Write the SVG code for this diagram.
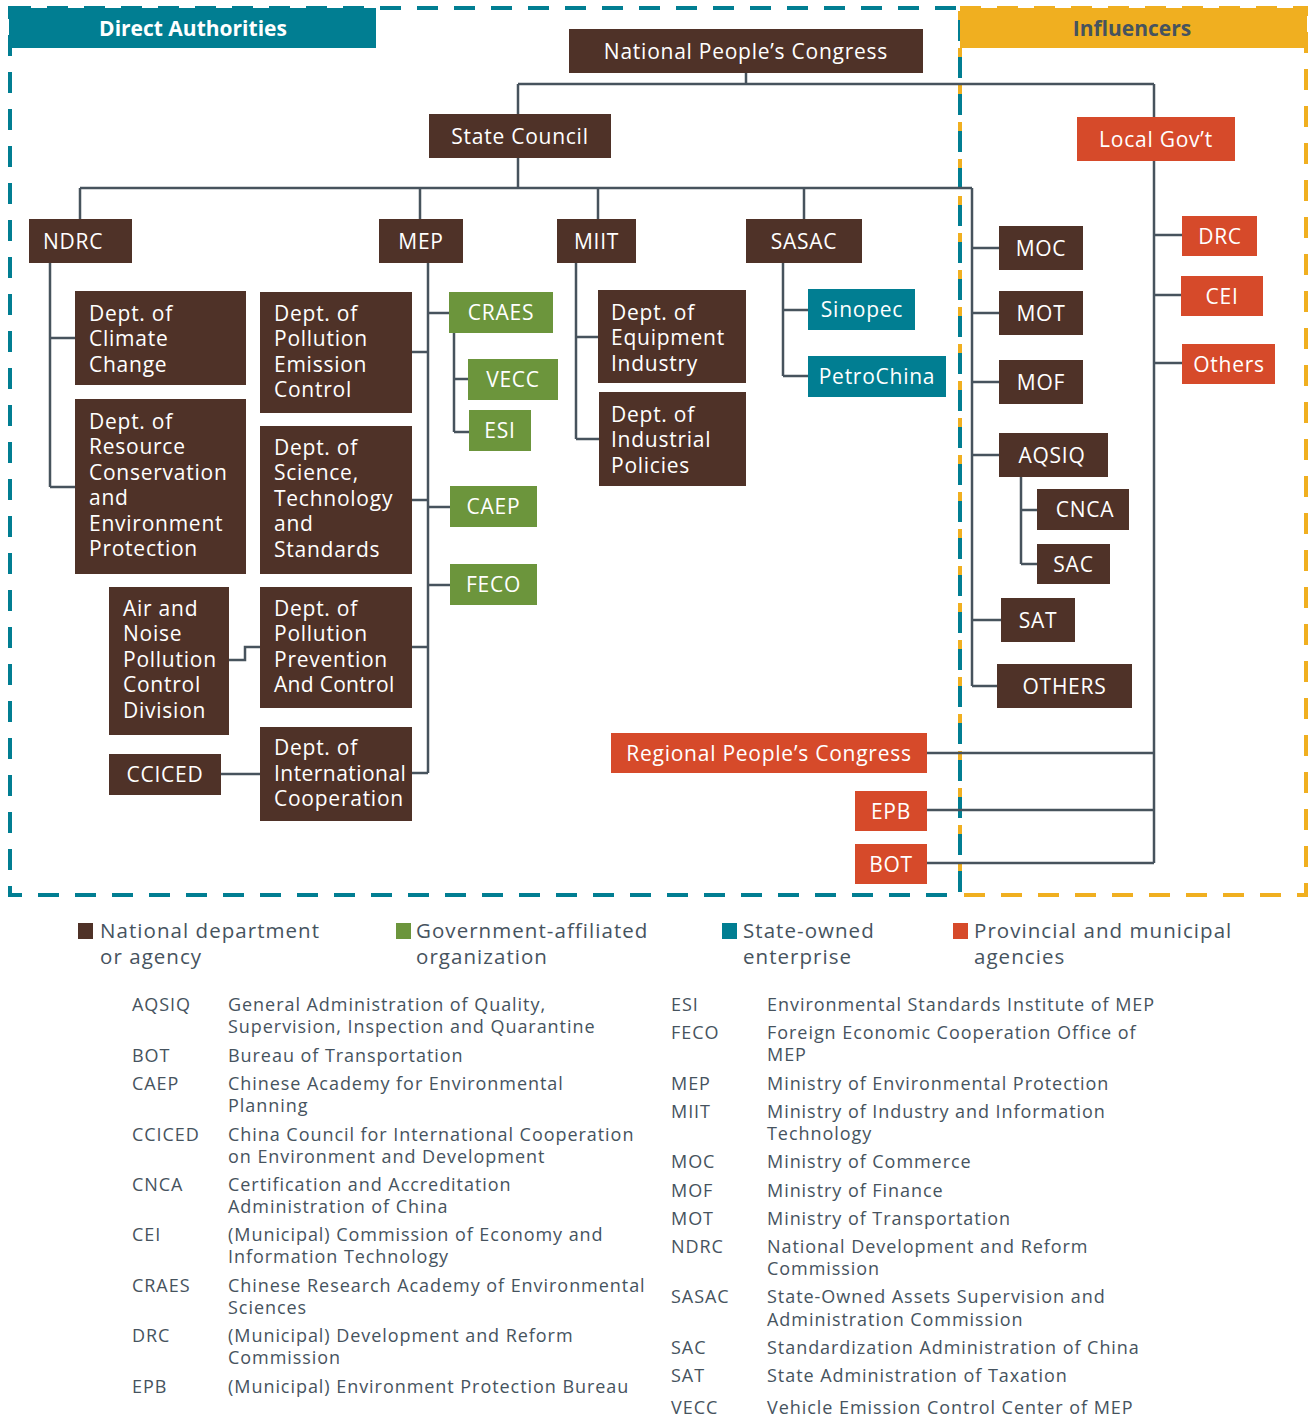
<svg xmlns="http://www.w3.org/2000/svg" width="1310" height="1418" viewBox="0 0 1310 1418">
<style>
.bg{fill:#ffffff}
.br{fill:#4F3228}
.gr{fill:#6C953C}
.tl{fill:#017E92}
.rd{fill:#D64A2A}
.yl{fill:#F0AF20}
.lbl{font-family:"Open Sans","Noto Sans",sans-serif;font-size:21px;fill:#ffffff;letter-spacing:0.75px}
.c{text-anchor:middle}
.ban{font-family:"Open Sans","Noto Sans",sans-serif;font-size:21px;font-weight:bold}
.leg{font-family:"Open Sans","Noto Sans",sans-serif;font-size:20.5px;fill:#46535E;letter-spacing:1.05px}
.gl{font-family:"Open Sans","Noto Sans",sans-serif;font-size:18px;fill:#46535E;letter-spacing:0.95px}
.conn path{stroke:#47535D;stroke-width:2.5;fill:none}
.frameT{fill:none;stroke:#017E92;stroke-width:4;stroke-dasharray:21 16}
.frameY{fill:none;stroke:#F0AF20;stroke-width:4;stroke-dasharray:21 16}
</style>
<rect class="bg" x="0" y="0" width="1310" height="1418"/>

<!-- frames -->
<g id="frames">
<rect class="frameY" x="960" y="8" width="346" height="887"/>
<rect class="frameT" x="10" y="8" width="950" height="887"/>
</g>

<g id="banner-direct"><rect class="tl" x="9" y="8" width="367" height="40"/><text class="ban c" x="193" y="35.5" fill="#ffffff">Direct Authorities</text></g>
<g id="banner-influencers"><rect class="yl" x="960" y="8" width="347" height="40"/><text class="ban c" x="1132" y="35.5" fill="#46535E">Influencers</text></g>

<!-- connectors -->
<g class="conn" id="connectors">
<path d="M746 73V84M518 84H1154M518 84V114M1154 84V117"/>
<path d="M518 158V188M80 188H972M80 188V219M420 188V219M598 188V219M804 188V219M972 188V686"/>
<path d="M972 248H999M972 313H999M972 382H999M972 455H999M972 620H1001M972 686H997"/>
<path d="M1021 477V564M1021 510H1037M1021 564H1037"/>
<path d="M1154 161V863M1154 235H1182M1154 295H1181M1154 363H1182M927 753H1154M927 810H1154M927 863H1154"/>
<path d="M50 263V487M50 338H75M50 487H75"/>
<path d="M428 263V773M412 352H428M412 500H428M412 647H428M412 773H428M428 313H449M428 507H450M428 585H450"/>
<path d="M454 333V432M454 379H468M454 432H469"/>
<path d="M229 660H245V647H260M221 774H260"/>
<path d="M576 263V439M576 337H598M576 439H599"/>
<path d="M783 263V376M783 310H808M783 376H808"/>
</g>

<!-- top nodes -->
<g id="npc"><rect class="br" x="569" y="29" width="354" height="44"/><text class="lbl c" x="746" y="58.5">National People’s Congress</text></g>
<g id="state-council"><rect class="br" x="429" y="114" width="182" height="44"/><text class="lbl c" x="520" y="143.5">State Council</text></g>
<g id="local-gov"><rect class="rd" x="1077" y="117" width="158" height="44"/><text class="lbl c" x="1156" y="146.5">Local Gov’t</text></g>

<g id="ndrc"><rect class="br" x="29" y="219" width="103" height="44"/><text class="lbl" x="43" y="248.5">NDRC</text></g>
<g id="mep"><rect class="br" x="379" y="219" width="84" height="44"/><text class="lbl c" x="421" y="248.5">MEP</text></g>
<g id="miit"><rect class="br" x="557" y="219" width="79" height="44"/><text class="lbl c" x="596.5" y="248.5">MIIT</text></g>
<g id="sasac"><rect class="br" x="746" y="219" width="116" height="44"/><text class="lbl c" x="804" y="248.5">SASAC</text></g>

<!-- NDRC children -->
<g id="dept-climate"><rect class="br" x="75" y="291" width="171" height="94"/>
<text class="lbl" x="89" y="320.5">Dept. of</text><text class="lbl" x="89" y="346">Climate</text><text class="lbl" x="89" y="371.5">Change</text></g>
<g id="dept-resource"><rect class="br" x="75" y="399" width="171" height="175"/>
<text class="lbl" x="89" y="428.5">Dept. of</text><text class="lbl" x="89" y="454">Resource</text><text class="lbl" x="89" y="479.5">Conservation</text><text class="lbl" x="89" y="505">and</text><text class="lbl" x="89" y="530.5">Environment</text><text class="lbl" x="89" y="556">Protection</text></g>

<!-- MEP children -->
<g id="dept-pec"><rect class="br" x="260" y="292" width="152" height="121"/>
<text class="lbl" x="274" y="320.5">Dept. of</text><text class="lbl" x="274" y="346">Pollution</text><text class="lbl" x="274" y="371.5">Emission</text><text class="lbl" x="274" y="397">Control</text></g>
<g id="dept-sci"><rect class="br" x="260" y="426" width="152" height="148"/>
<text class="lbl" x="274" y="454.5">Dept. of</text><text class="lbl" x="274" y="480">Science,</text><text class="lbl" x="274" y="505.5">Technology</text><text class="lbl" x="274" y="531">and</text><text class="lbl" x="274" y="556.5">Standards</text></g>
<g id="dept-ppc"><rect class="br" x="260" y="587" width="152" height="121"/>
<text class="lbl" x="274" y="615.5">Dept. of</text><text class="lbl" x="274" y="641">Pollution</text><text class="lbl" x="274" y="666.5">Prevention</text><text class="lbl" x="274" y="692" style="letter-spacing:0.3px">And Control</text></g>
<g id="dept-intl"><rect class="br" x="260" y="727" width="152" height="94"/>
<text class="lbl" x="274" y="755">Dept. of</text><text class="lbl" x="274" y="780.5" style="letter-spacing:0.45px">International</text><text class="lbl" x="274" y="806">Cooperation</text></g>
<g id="air-noise"><rect class="br" x="109" y="587" width="120" height="148"/>
<text class="lbl" x="123" y="615.5">Air and</text><text class="lbl" x="123" y="641">Noise</text><text class="lbl" x="123" y="666.5">Pollution</text><text class="lbl" x="123" y="692">Control</text><text class="lbl" x="123" y="717.5">Division</text></g>
<g id="cciced"><rect class="br" x="109" y="754" width="112" height="41"/><text class="lbl c" x="165" y="781.5">CCICED</text></g>

<g id="craes"><rect class="gr" x="449" y="292" width="104" height="41"/><text class="lbl c" x="501" y="320">CRAES</text></g>
<g id="vecc"><rect class="gr" x="468" y="359" width="90" height="41"/><text class="lbl c" x="513" y="387">VECC</text></g>
<g id="esi"><rect class="gr" x="469" y="410" width="62" height="41"/><text class="lbl c" x="500" y="438">ESI</text></g>
<g id="caep"><rect class="gr" x="450" y="486" width="87" height="41"/><text class="lbl c" x="493.5" y="514">CAEP</text></g>
<g id="feco"><rect class="gr" x="450" y="564" width="87" height="41"/><text class="lbl c" x="493.5" y="592">FECO</text></g>

<!-- MIIT children -->
<g id="dept-equip"><rect class="br" x="598" y="290" width="148" height="93"/>
<text class="lbl" x="611" y="319.5">Dept. of</text><text class="lbl" x="611" y="345">Equipment</text><text class="lbl" x="611" y="370.5">Industry</text></g>
<g id="dept-indpol"><rect class="br" x="599" y="392" width="147" height="94"/>
<text class="lbl" x="611" y="421.5">Dept. of</text><text class="lbl" x="611" y="447">Industrial</text><text class="lbl" x="611" y="472.5">Policies</text></g>

<!-- SASAC children -->
<g id="sinopec"><rect class="tl" x="808" y="289" width="107" height="41"/><text class="lbl c" x="862" y="317">Sinopec</text></g>
<g id="petrochina"><rect class="tl" x="808" y="356" width="138" height="41"/><text class="lbl c" x="877" y="384">PetroChina</text></g>

<!-- right column -->
<g id="moc"><rect class="br" x="999" y="226" width="84" height="44"/><text class="lbl c" x="1041" y="255.5">MOC</text></g>
<g id="mot"><rect class="br" x="999" y="291" width="84" height="44"/><text class="lbl c" x="1041" y="320.5">MOT</text></g>
<g id="mof"><rect class="br" x="999" y="360" width="84" height="44"/><text class="lbl c" x="1041" y="389.5">MOF</text></g>
<g id="aqsiq"><rect class="br" x="999" y="433" width="109" height="44"/><text class="lbl c" x="1052" y="462.5">AQSIQ</text></g>
<g id="cnca"><rect class="br" x="1037" y="489" width="92" height="41"/><text class="lbl c" x="1085" y="517">CNCA</text></g>
<g id="sac"><rect class="br" x="1037" y="544" width="73" height="40"/><text class="lbl c" x="1073.5" y="571.5">SAC</text></g>
<g id="sat"><rect class="br" x="1001" y="598" width="74" height="44"/><text class="lbl c" x="1038" y="627.5">SAT</text></g>
<g id="others-nat"><rect class="br" x="997" y="664" width="135" height="44"/><text class="lbl c" x="1064.5" y="693.5">OTHERS</text></g>

<g id="drc"><rect class="rd" x="1182" y="216" width="75" height="40"/><text class="lbl c" x="1220" y="243.5">DRC</text></g>
<g id="cei"><rect class="rd" x="1181" y="276" width="82" height="40"/><text class="lbl c" x="1222" y="303.5">CEI</text></g>
<g id="others-loc"><rect class="rd" x="1182" y="344" width="93" height="40"/><text class="lbl c" x="1229" y="371.5">Others</text></g>

<g id="regional-pc"><rect class="rd" x="611" y="733" width="316" height="40"/><text class="lbl c" x="769" y="760.5">Regional People’s Congress</text></g>
<g id="epb"><rect class="rd" x="855" y="791" width="72" height="40"/><text class="lbl c" x="891" y="818.5">EPB</text></g>
<g id="bot"><rect class="rd" x="855" y="844" width="72" height="40"/><text class="lbl c" x="891" y="871.5">BOT</text></g>

<!-- legend -->
<g id="legend">
<rect class="br" x="78" y="923" width="15" height="16"/>
<text class="leg" x="100" y="938">National department</text><text class="leg" x="100" y="964">or agency</text>
<rect class="gr" x="396" y="923" width="15" height="16"/>
<text class="leg" x="416" y="938">Government-affiliated</text><text class="leg" x="416" y="964">organization</text>
<rect class="tl" x="722" y="923" width="15" height="16"/>
<text class="leg" x="743" y="938">State-owned</text><text class="leg" x="743" y="964">enterprise</text>
<rect class="rd" x="953" y="923" width="15" height="16"/>
<text class="leg" x="974" y="938">Provincial and municipal</text><text class="leg" x="974" y="964">agencies</text>
</g>

<!-- glossary -->
<g id="glossary">
<text class="gl" x="132" y="1011">AQSIQ</text><text class="gl" x="228" y="1011">General Administration of Quality,</text><text class="gl" x="228" y="1033">Supervision, Inspection and Quarantine</text>
<text class="gl" x="132" y="1062">BOT</text><text class="gl" x="228" y="1062">Bureau of Transportation</text>
<text class="gl" x="132" y="1090">CAEP</text><text class="gl" x="228" y="1090">Chinese Academy for Environmental</text><text class="gl" x="228" y="1112">Planning</text>
<text class="gl" x="132" y="1141">CCICED</text><text class="gl" x="228" y="1141">China Council for International Cooperation</text><text class="gl" x="228" y="1163">on Environment and Development</text>
<text class="gl" x="132" y="1191">CNCA</text><text class="gl" x="228" y="1191">Certification and Accreditation</text><text class="gl" x="228" y="1213">Administration of China</text>
<text class="gl" x="132" y="1241">CEI</text><text class="gl" x="228" y="1241">(Municipal) Commission of Economy and</text><text class="gl" x="228" y="1263">Information Technology</text>
<text class="gl" x="132" y="1292">CRAES</text><text class="gl" x="228" y="1292">Chinese Research Academy of Environmental</text><text class="gl" x="228" y="1314">Sciences</text>
<text class="gl" x="132" y="1342">DRC</text><text class="gl" x="228" y="1342">(Municipal) Development and Reform</text><text class="gl" x="228" y="1364">Commission</text>
<text class="gl" x="132" y="1393">EPB</text><text class="gl" x="228" y="1393">(Municipal) Environment Protection Bureau</text>

<text class="gl" x="671" y="1011">ESI</text><text class="gl" x="767" y="1011">Environmental Standards Institute of MEP</text>
<text class="gl" x="671" y="1039">FECO</text><text class="gl" x="767" y="1039">Foreign Economic Cooperation Office of</text><text class="gl" x="767" y="1061">MEP</text>
<text class="gl" x="671" y="1090">MEP</text><text class="gl" x="767" y="1090">Ministry of Environmental Protection</text>
<text class="gl" x="671" y="1118">MIIT</text><text class="gl" x="767" y="1118">Ministry of Industry and Information</text><text class="gl" x="767" y="1140">Technology</text>
<text class="gl" x="671" y="1168">MOC</text><text class="gl" x="767" y="1168">Ministry of Commerce</text>
<text class="gl" x="671" y="1197">MOF</text><text class="gl" x="767" y="1197">Ministry of Finance</text>
<text class="gl" x="671" y="1225">MOT</text><text class="gl" x="767" y="1225">Ministry of Transportation</text>
<text class="gl" x="671" y="1253">NDRC</text><text class="gl" x="767" y="1253">National Development and Reform</text><text class="gl" x="767" y="1275">Commission</text>
<text class="gl" x="671" y="1303">SASAC</text><text class="gl" x="767" y="1303">State-Owned Assets Supervision and</text><text class="gl" x="767" y="1326">Administration Commission</text>
<text class="gl" x="671" y="1354">SAC</text><text class="gl" x="767" y="1354">Standardization Administration of China</text>
<text class="gl" x="671" y="1382">SAT</text><text class="gl" x="767" y="1382">State Administration of Taxation</text>
<text class="gl" x="671" y="1414">VECC</text><text class="gl" x="767" y="1414">Vehicle Emission Control Center of MEP</text>
</g>
</svg>
